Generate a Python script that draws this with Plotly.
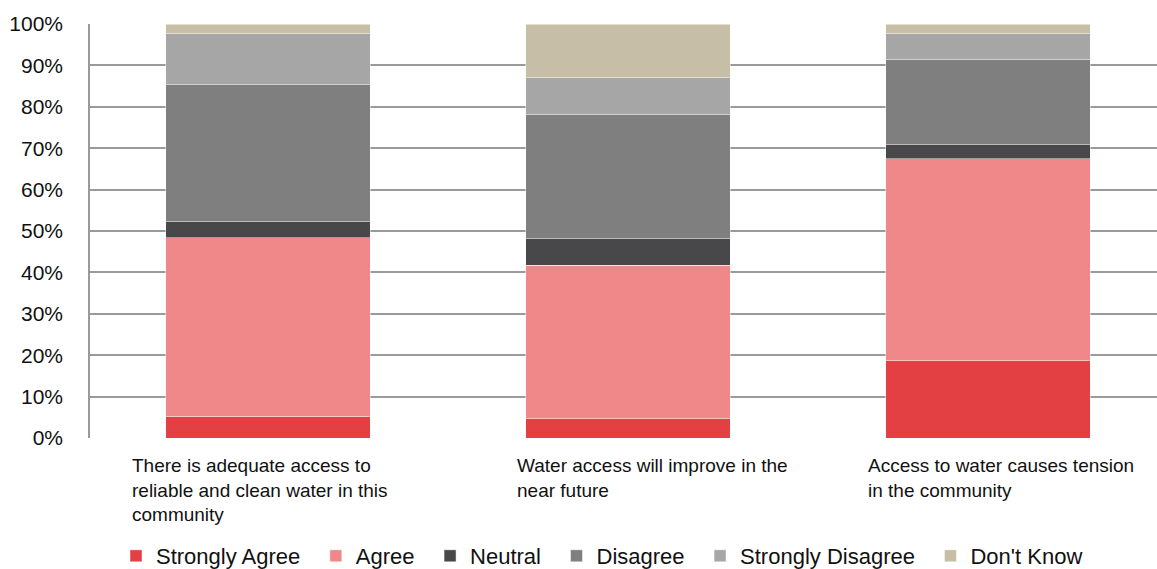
import plotly.graph_objects as go

categories = [
    "There is adequate access to<br>reliable and clean water in this<br>community",
    "Water access will improve in the<br>near future",
    "Access to water causes tension<br>in the community",
]
series_names = ["Strongly Agree", "Agree", "Neutral", "Disagree", "Strongly Disagree", "Don't Know"]
strongly_agree = [5.2, 4.7, 18.7]
agree = [43.2, 37.0, 48.8]
neutral = [3.8, 6.4, 3.3]
disagree = [33.1, 30.0, 20.6]
strongly_disagree = [12.4, 8.9, 6.3]
dont_know = [2.3, 13.0, 2.3]
series_values = [strongly_agree, agree, neutral, disagree, strongly_disagree, dont_know]
colors = ["#E34043", "#F0888A", "#48484A", "#7F7F7F", "#A6A6A6", "#C6BEA7"]
y_ticks = [0, 10, 20, 30, 40, 50, 60, 70, 80, 90, 100]
y_tick_labels = [f"{v}%" for v in y_ticks]

FONT = "Liberation Sans Narrow, Arial Narrow, Liberation Sans, Arial, sans-serif"

fig = go.Figure()
xs = [0, 1, 2]
for name, vals, col in zip(series_names, series_values, colors):
    fig.add_trace(go.Bar(
        x=xs, y=vals, name=name + "\u00a0\u2009",
        marker=dict(color=col, line=dict(color="rgba(255,255,255,0.6)", width=0.8)),
    ))

W, H = 1157, 569
L, R, T, B = 90, 0, 24, 131
pw = W - L - R
# category label positions (left edge in pixels)
label_px = [130, 515, 866]
for cat, px in zip(categories, label_px):
    fig.add_annotation(
        text=cat, xref="paper", yref="paper",
        x=(px - L) / pw, y=-0.036, xanchor="left", yanchor="top",
        align="left", showarrow=False,
        font=dict(family=FONT, size=19, color="#111111"),
    )

fig.update_layout(
    width=W, height=H,
    margin=dict(l=L, r=R, t=T, b=B, autoexpand=False),
    barmode="stack", bargap=0.431,
    plot_bgcolor="white", paper_bgcolor="white",
    font=dict(family=FONT, color="#111111"),
    xaxis=dict(range=[-0.4944, 2.4696], showticklabels=False, showgrid=False,
               zeroline=False, showline=False, ticks=""),
    yaxis=dict(range=[0, 100], tickvals=y_ticks, ticktext=y_tick_labels,
               showgrid=True, gridcolor="#9A9A9A", gridwidth=1.5,
               zeroline=False, showline=True, linecolor="#9A9A9A", linewidth=1.5,
               ticks="", ticklabelstandoff=21,
               tickfont=dict(family=FONT, size=21, color="#111111")),
    legend=dict(orientation="h", x=(116 - L) / pw, xanchor="left",
                y=-0.285, yanchor="middle",
                font=dict(family=FONT, size=22, color="#111111"),
                itemwidth=30, traceorder="normal", bgcolor="rgba(0,0,0,0)"),
    showlegend=True,
)
fig.write_html(
    "out.html",
    config={"displayModeBar": False},
    post_script="document.body.style.margin='0px';document.body.style.overflow='hidden';document.documentElement.style.overflow='hidden';",
)
